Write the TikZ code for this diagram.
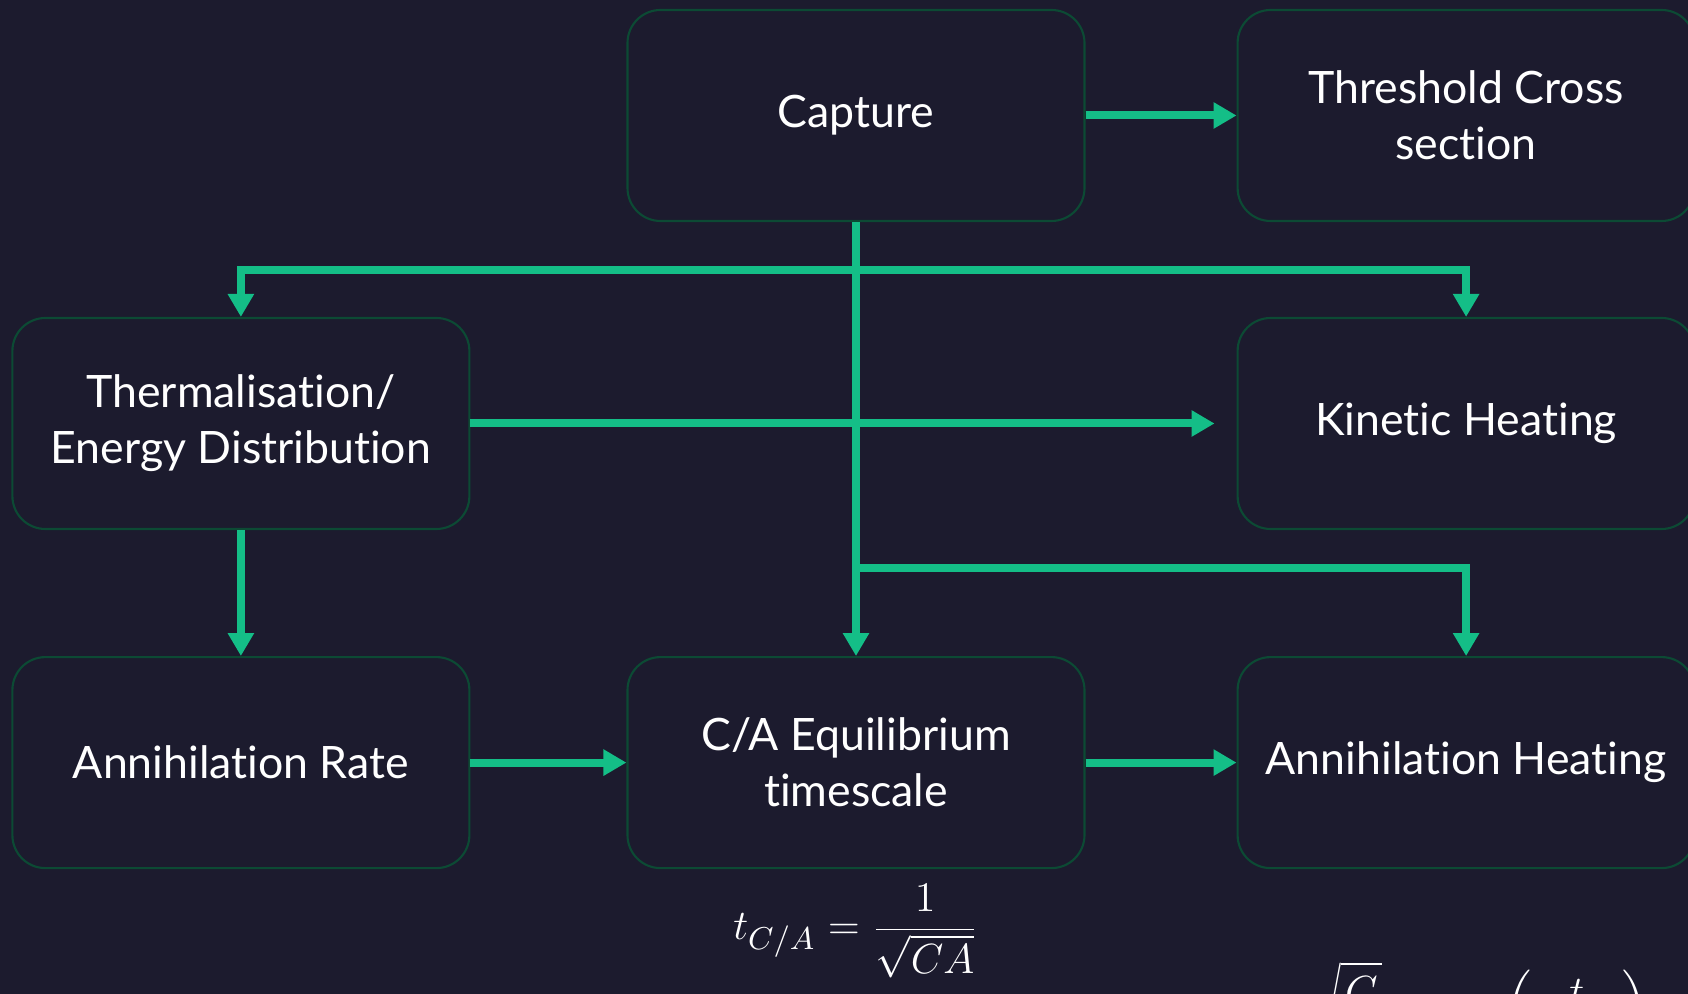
\documentclass[tikz,border=0pt]{standalone}
\usepackage{fontspec}
\setmainfont{Lato}[Ligatures=NoCommon]
\usetikzlibrary{arrows.meta,positioning,calc}
\definecolor{night}{HTML}{1C1B2E}
\definecolor{pine}{HTML}{0C4A34}
\definecolor{jade}{HTML}{14BE87}
\tikzset{
  stage/.style={rectangle,rounded corners=0.33cm,draw=pine,line width=0.6pt,fill=night,align=center,minimum width=4.57cm,minimum height=2.11cm,text=white,font=\fontsize{12.7pt}{15.9pt}\selectfont,inner sep=2pt},
  link/.style={-{Triangle[length=0.23cm,width=0.25cm]},line width=0.08cm,jade},
  formula/.style={text=white,font=\fontsize{12.8pt}{15pt}\selectfont,inner sep=0pt}
}

\begin{document}
\begin{tikzpicture}
  \useasboundingbox (0,0) rectangle (16.88,-9.94);
  \fill[night] (0,0) rectangle (16.88,-9.94);
  \clip (0,0) rectangle (16.88,-9.94);
  \node[stage] (capture) at (8.56,-1.155) {Capture};
  \node[stage,right=1.51cm of capture] (threshold) {Threshold Cross\\section};
  \node[stage,below=4.34cm of capture] (equil) {C/A Equilibrium\\timescale};
  \node[stage,left=1.56cm of equil] (annrate) {Annihilation Rate};
  \node[stage,right=1.51cm of equil] (annheat) {Annihilation Heating};
  \node[stage,above=1.26cm of annrate] (therm) {Thermalisation/\\Energy Distribution};
  \node[stage,above=1.26cm of annheat] (kinetic) {Kinetic Heating};
  \node[formula] (teq) at ([yshift=-0.62cm]equil.south) {$\displaystyle t_{C/A}=\frac{1}{\sqrt{CA}}$};
  \node[formula,anchor=north west] (nsol) at (13.05,-9.61) {$\displaystyle \sqrt{\frac{C}{A}}\,\tanh\;\left(\frac{t}{t_{C/A}}\right)$};
  \draw[link] (capture) -- (threshold);
  \draw[link] (capture.south) -- ++(0,-0.48) -| (therm.north);
  \draw[link] (capture.south) -- ++(0,-0.48) -| (kinetic.north);
  \draw[link] (capture.south) -- (equil.north);
  \draw[link] ([yshift=0.88cm]equil.north) -| (annheat.north);
  \draw[link,shorten >=0.22cm] (therm) -- (kinetic);
  \draw[link] (therm) -- (annrate);
  \draw[link] (annrate) -- (equil);
  \draw[link] (equil) -- (annheat);
\end{tikzpicture}
\end{document}
